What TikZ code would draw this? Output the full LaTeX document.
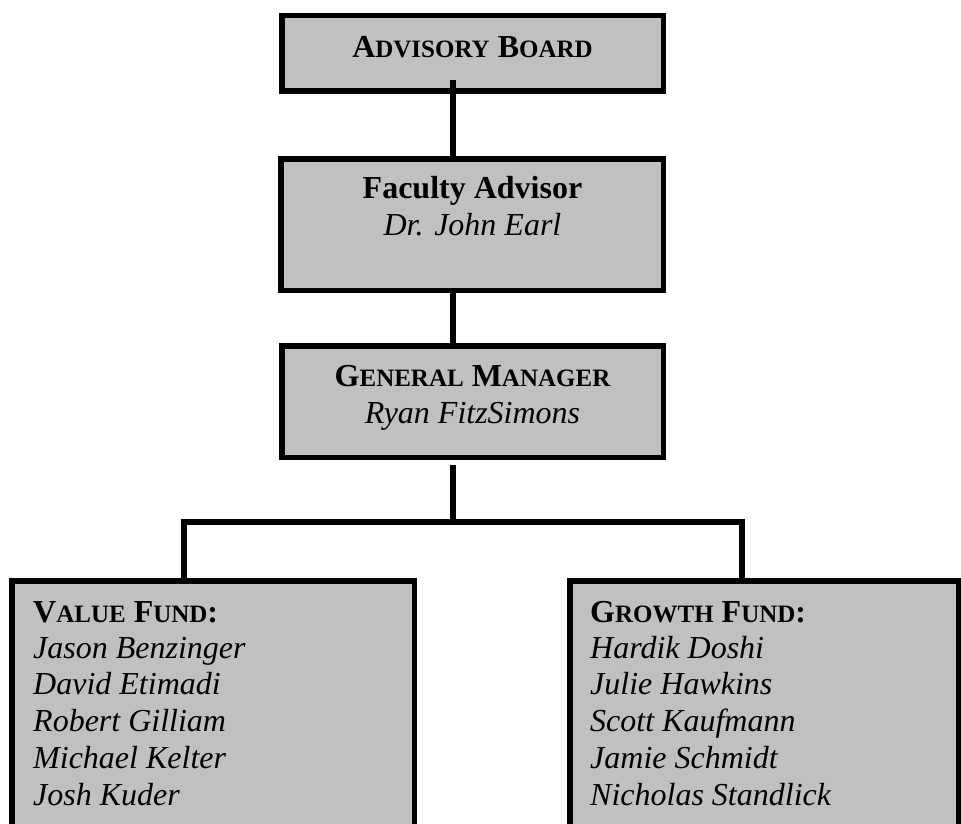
\documentclass[tikz,border=0pt]{standalone}
\usepackage{fontspec}
\setmainfont{Liberation Serif}
\definecolor{boxgray}{RGB}{192,192,192}
\newcommand\smc[1]{{\fontsize{25}{30}\selectfont #1}}
\begin{document}
\begin{tikzpicture}[x=1pt,y=-1pt,
  box/.style={draw=black, fill=boxgray, line width=5.5pt, rectangle, inner sep=0pt},
  conn/.style={draw=black, line width=5.5pt},
  txt/.style={inner sep=0pt, font=\fontsize{32}{36.5}\selectfont}]
\useasboundingbox (0,0) rectangle (961,824);
\clip (0,0) rectangle (961,824);
% boxes
\node[box, minimum width=381.5pt, minimum height=75.5pt] (AB) at (472.5,53.5) {};
\node[box, minimum width=382.5pt, minimum height=131.5pt] (FA) at (472,224.5) {};
\node[box, minimum width=381.5pt, minimum height=111.5pt] (GM) at (472.5,401.5) {};
\node[box, minimum width=402.5pt, minimum height=266.5pt] (VF) at (213,714) {};
\node[box, minimum width=388.5pt, minimum height=266.5pt] (GF) at (764,714) {};
% connectors
\coordinate (abdrop) at (453,80);
\coordinate (gmdrop) at (453,465);
\coordinate (bar) at (453,522);
\coordinate (vtop) at (184,522);
\coordinate (gtop) at (742,522);
\draw[conn] (abdrop) -- (abdrop |- FA.north);
\draw[conn] (abdrop |- FA.south) -- (abdrop |- GM.north);
\draw[conn] (gmdrop) -- (bar);
\draw[conn] (vtop |- VF.north) -- (vtop) -- (gtop) -- (gtop |- GF.north);
% texts
\node[txt, anchor=base] (abt) at (472.5,58) {\bfseries A\smc{DVISORY} B\smc{OARD}};
\node[txt, anchor=base] (fat) at (472.5,198) {\bfseries Faculty Advisor};
\node[txt, anchor=base] (fan) at (472.5,235) {\itshape Dr. John Earl};
\node[txt, anchor=base] (gmt) at (472.5,386) {\bfseries G\smc{ENERAL} M\smc{ANAGER}};
\node[txt, anchor=base] (gmn) at (472.5,423) {\itshape Ryan FitzSimons};
\node[txt, anchor=base west] (vft) at (33,622) {\bfseries V\smc{ALUE} F\smc{UND}:};
\foreach \n [count=\i from 0] in {Jason Benzinger, David Etimadi, Robert Gilliam, Michael Kelter, Josh Kuder}
  \node[txt, anchor=base west] (vf\i) at (33,658+36.75*\i) {\itshape \n};
\node[txt, anchor=base west] (gft) at (590,622) {\bfseries G\smc{ROWTH} F\smc{UND}:};
\foreach \n [count=\i from 0] in {Hardik Doshi, Julie Hawkins, Scott Kaufmann, Jamie Schmidt, Nicholas Standlick}
  \node[txt, anchor=base west] (gf\i) at (590,658+36.75*\i) {\itshape \n};
\end{tikzpicture}
\end{document}
